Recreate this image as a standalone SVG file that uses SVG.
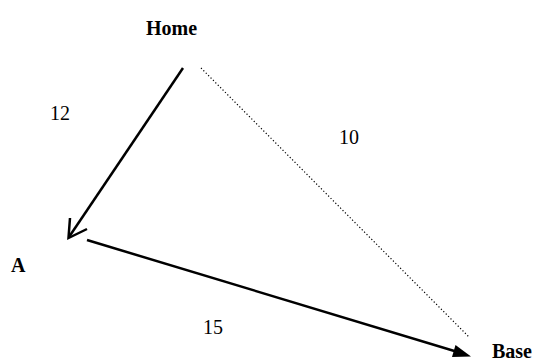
<svg xmlns="http://www.w3.org/2000/svg" width="534" height="360" viewBox="0 0 534 360">
<style>
.lbl{font-family:"Liberation Serif","Times New Roman",serif;font-size:20px;fill:#000}
.b{font-weight:bold}
.edge{stroke:#000;stroke-width:2.5;fill:none}
.dot{stroke:#000;stroke-width:1.2;fill:none;stroke-dasharray:1.2 2.2}
</style>
<rect width="534" height="360" fill="#fff"/>
<g id="connectors">
<line class="edge" x1="183" y1="68" x2="69" y2="237"/>
<polyline class="edge" points="70,218 68.5,238 87,229" stroke-linejoin="miter"/>
<line class="edge" x1="87" y1="240" x2="456" y2="351.5"/>
<polygon points="471,356.5 452,357 455.5,345" fill="#000"/>
<line class="dot" x1="201" y1="68" x2="469" y2="337"/>
</g>
<g id="home"><text class="lbl b" x="146" y="35">Home</text></g>
<g id="a"><text class="lbl b" x="11" y="272">A</text></g>
<g id="base"><text class="lbl b" x="492" y="357.5">Base</text></g>
<g id="labels">
<text class="lbl" x="50" y="120">12</text>
<text class="lbl" x="339" y="144">10</text>
<text class="lbl" x="203" y="334">15</text>
</g>
</svg>
